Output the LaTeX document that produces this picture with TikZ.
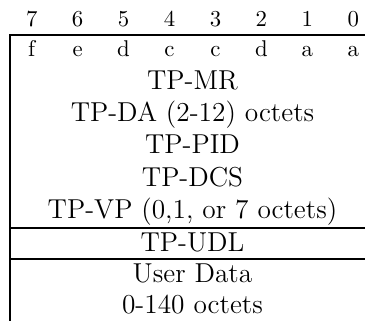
\documentclass[tikz,border=0pt]{standalone}
\usepackage{fontspec}
\begin{document}
\begin{tikzpicture}[x=0.4386pt, y=-0.4386pt,
  rulebar/.style={line width=0.9pt},
  bitlabel/.style={anchor=base, inner sep=0pt, font=\normalsize},
  fieldlabel/.style={anchor=base, inner sep=0pt, font=\large}]
  \useasboundingbox (0,0) rectangle (365,321);
  % bit numbers and bit meanings of the first octet
  \foreach \b [count=\i from 0] in {7,6,5,4,3,2,1,0}
    \node[bitlabel] (bit\b) at (31.7+45.94*\i, 26.7) {\b};
  \foreach \l [count=\i from 0] in {f,e,d,c,c,d,a,a}
    \node[bitlabel] (flag\i) at (31.7+45.94*\i, 56.7) {\l};
  % field rows
  \node[fieldlabel] (mr)  at (192.5, 89.3)  {TP-MR};
  \node[fieldlabel] (da)  at (192.5, 121.6) {TP-DA (2-12) octets};
  \node[fieldlabel] (pid) at (192.5, 153.9) {TP-PID};
  \node[fieldlabel] (dcs) at (192.5, 186.2) {TP-DCS};
  \node[fieldlabel] (vp)  at (192.5, 218.5) {TP-VP (0,1, or 7 octets)};
  \node[fieldlabel] (udl) at (192.5, 251.5) {TP-UDL};
  \node[fieldlabel] (ud)  at (192.5, 282.5) {User Data};
  \node[fieldlabel] (len) at (192.5, 314)   {0-140 octets};
  % rules
  \draw[rulebar] (10,35) -- (365,35);
  \draw[rulebar] (10,228) -- (365,228);
  \draw[rulebar] (10,259) -- (365,259);
  \draw[rulebar] (10,34.5) -- (10,321);
\end{tikzpicture}
\end{document}
